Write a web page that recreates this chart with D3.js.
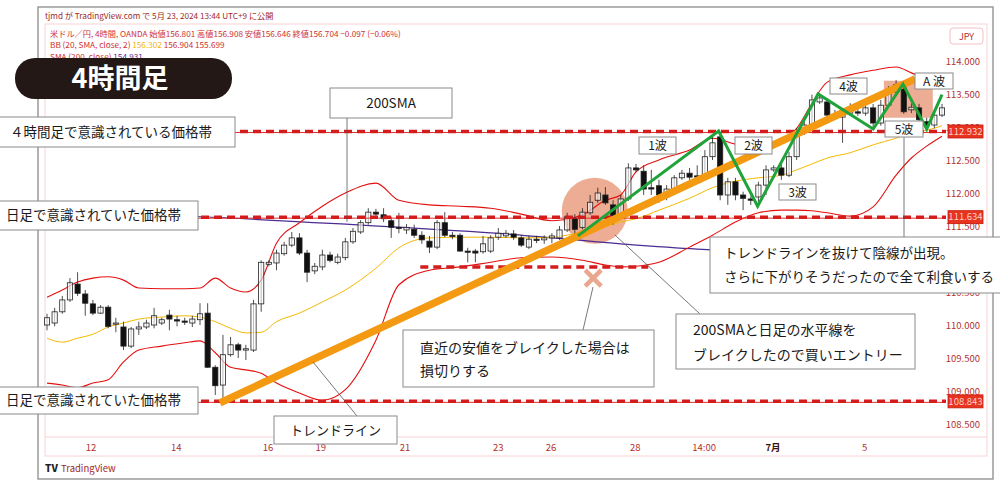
<!DOCTYPE html>
<html>
<head>
<meta charset="utf-8">
<script src="https://cdn.jsdelivr.net/npm/d3@7"></script>
<style>
body { margin: 0; background: #fff; }
svg { display: block; font-family: "Noto Sans CJK JP", "Noto Sans", sans-serif; }
</style>
</head>
<body>
<svg id="chart" width="1000" height="487"></svg>
<script>
// ---------------- data (USD/JPY 4h) ----------------

var candleOpen = [110.00,110.03,110.20,110.38,110.62,110.47,110.32,110.18,110.27,110.02,109.97,109.68,109.94,109.97,110.00,110.03,110.15,110.08,110.06,110.03,
  110.08,110.18,109.36,109.09,109.55,109.70,109.62,109.62,110.32,110.92,110.94,111.08,111.21,111.32,111.09,110.82,110.88,111.06,110.95,111.02,
  111.26,111.41,111.55,111.71,111.67,111.58,111.48,111.44,111.45,111.36,111.27,111.18,111.55,111.36,111.36,111.12,111.12,111.11,111.12,111.33,
  111.35,111.38,111.32,111.18,111.30,111.29,111.32,111.32,111.44,111.62,111.48,111.70,111.89,111.97,111.82,111.64,111.91,112.38,112.33,112.08,
  112.11,111.94,112.06,112.23,112.30,112.26,112.24,112.55,112.85,111.97,112.17,111.97,111.91,111.94,112.12,112.35,112.38,112.27,112.55,112.92,
  113.03,113.38,113.38,113.18,113.15,113.21,113.23,113.21,113.29,113.06,113.33,113.53,113.59,113.26,113.29,113.08,113.03,113.18];
var candleHigh = [110.17,110.26,110.44,110.71,110.80,110.53,110.38,110.30,110.30,110.11,110.05,109.97,110.05,110.08,110.26,110.11,110.23,110.14,110.11,110.14,
  110.33,110.33,109.39,109.85,109.82,109.73,109.70,110.38,110.98,110.98,111.14,111.26,111.41,111.39,111.14,110.94,111.14,111.11,111.08,111.32,
  111.47,111.59,111.77,111.76,111.77,111.64,111.70,111.53,111.52,111.42,111.35,111.59,111.71,111.41,111.39,111.17,111.15,111.35,111.36,111.47,
  111.44,111.44,111.36,111.35,111.35,111.36,111.39,111.50,111.70,111.68,111.77,111.97,112.08,112.09,111.89,111.97,112.45,112.44,112.42,112.35,
  112.20,112.12,112.27,112.35,112.38,112.42,112.65,112.88,112.92,112.23,112.23,112.02,111.95,112.17,112.42,112.42,112.45,112.62,112.98,113.11,
  113.49,113.50,113.44,113.26,113.29,113.36,113.29,113.35,113.35,113.41,113.62,113.71,113.68,113.36,113.35,113.14,113.26,113.35];
var candleLow = [109.92,109.98,110.17,110.35,110.44,110.14,110.15,110.17,109.95,109.89,109.62,109.65,109.85,109.94,109.95,110.00,109.92,109.98,110.00,109.97,
  110.00,109.35,108.94,108.84,109.52,109.50,109.47,109.59,110.20,110.89,110.83,111.05,111.18,111.06,110.65,110.77,110.83,110.95,110.92,110.98,
  111.23,111.38,111.52,111.65,111.56,111.32,111.39,111.38,111.32,111.23,111.09,111.15,111.33,111.30,111.11,110.95,110.95,111.08,111.09,111.29,
  111.32,111.29,111.18,111.15,111.24,111.23,111.24,111.29,111.41,111.38,111.45,111.67,111.85,111.82,111.52,111.61,111.88,112.32,111.97,111.97,
  111.85,111.89,112.03,112.20,112.20,112.17,112.21,112.50,111.89,111.82,111.89,111.74,111.82,111.80,111.97,112.32,112.20,112.24,112.50,112.88,
  112.98,113.35,113.14,113.11,112.76,113.17,113.17,113.17,112.98,113.02,113.29,113.49,113.20,113.21,113.05,112.95,112.98,113.15];
var candleClose = [110.11,110.20,110.38,110.64,110.48,110.33,110.18,110.27,109.98,110.03,109.68,109.94,109.97,110.03,110.14,110.08,110.09,110.06,110.05,110.09,
  110.17,109.36,109.08,109.55,109.70,109.62,109.64,110.32,110.95,110.95,111.09,111.21,111.32,111.09,110.80,110.89,111.06,110.98,111.03,111.26,
  111.42,111.55,111.71,111.68,111.61,111.48,111.47,111.48,111.36,111.29,111.18,111.55,111.36,111.35,111.12,111.11,111.09,111.23,111.32,111.39,
  111.39,111.33,111.21,111.30,111.29,111.32,111.35,111.44,111.64,111.45,111.71,111.86,112.00,111.85,111.62,111.91,112.38,112.35,112.06,112.06,
  111.97,112.06,112.23,112.30,112.24,112.24,112.55,112.76,111.97,112.17,111.97,111.92,111.89,112.12,112.35,112.38,112.27,112.55,112.92,113.03,
  113.41,113.44,113.18,113.15,113.23,113.30,113.21,113.29,113.06,113.33,113.56,113.64,113.23,113.30,113.11,113.02,113.18,113.29];

// Bollinger band (20, 2) and SMA200, read at these candle positions
var bbIdx   = [0,2,4,6,8,10,12,15,18,20,22,24,26,28,30,33,36,39,43,46,50,54,58,62,66,70,73,75,77,80,84,87,90,93,96,98,100,102,105,108,111,113,115,117];
var bbUpper = [110.42,110.53,110.65,110.71,110.73,110.68,110.56,110.55,110.55,110.56,110.71,110.56,110.50,110.68,111.24,111.55,111.80,112.00,112.15,111.89,
  111.82,111.80,111.77,111.68,111.58,111.67,111.89,111.97,112.32,112.50,112.65,112.83,112.74,112.68,112.80,112.98,113.36,113.68,113.79,113.86,113.91,113.82,113.71,113.59];
var bbBasis = [109.80,109.74,109.80,109.86,109.97,110.03,110.09,110.12,110.14,110.12,110.05,109.95,109.88,109.89,110.05,110.18,110.35,110.53,110.86,111.17,
  111.32,111.33,111.33,111.32,111.33,111.41,111.49,111.56,111.61,111.74,111.92,112.08,112.18,112.23,112.27,112.35,112.44,112.53,112.61,112.73,112.83,112.91,112.95,113.02];
var bbLower = [109.12,109.09,109.05,109.12,109.17,109.44,109.62,109.68,109.73,109.76,109.58,109.36,109.32,109.27,109.12,108.97,108.86,109.02,109.77,110.61,
  110.83,110.88,110.95,111.02,111.03,110.98,110.91,110.88,110.89,110.95,111.18,111.36,111.56,111.70,111.74,111.74,111.73,111.70,111.65,111.79,112.27,112.53,112.71,112.86];
var smaIdx = [0,20,40,60,75,85,117];
var sma200 = [111.71,111.64,111.52,111.38,111.23,111.15,111.05];

// horizontal levels drawn on the chart
var levels = [112.932, 111.634, 108.843];
var stopLevel = 110.88, stopFrom = 48.8, stopTo = 78.6;

// trend line and Elliott waves (candle position, price)
var trendIdx = [22.6, 113.5];
var trendPrice = [108.82, 113.73];
var waveIdx = [69.4, 87.8, 92.9, 100.8, 108.0, 111.9, 115.0, 117.0];
var wavePrice = [111.35, 112.94, 111.80, 113.50, 112.97, 113.65, 112.97, 113.49];

// axes
var priceTicks = [108.5, 109, 109.5, 110, 110.5, 111, 111.5, 112, 112.5, 113, 113.5, 114];
var timeIdx = [5.75, 16.9, 28.9, 35.8, 46.8, 59, 65.9, 76.9, 85.9, 94.9, 106.9];
var timeLabels = ["12", "14", "16", "19", "21", "23", "26", "28", "14:00", "7月", "5"];

// ---------------- chart ----------------

var svg = d3.select('#chart');
var x = d3.scaleLinear().domain([0, 117]).range([47, 942]);
var y = d3.scaleLinear().domain([108.5, 114]).range([424, 61]);
var salmon = '#e9987a';

// frames
svg.append('rect').attr('x', 38).attr('y', 7).attr('width', 955).attr('height', 472)
  .attr('fill', 'none').attr('stroke', '#9a9a9a').attr('stroke-width', 1.5);
svg.append('rect').attr('x', 45).attr('y', 24).attr('width', 942).attr('height', 432)
  .attr('fill', 'none').attr('stroke', '#f7d3d6').attr('stroke-width', 1);
svg.append('line').attr('x1', 45).attr('x2', 987).attr('y1', 437).attr('y2', 437)
  .attr('stroke', '#f7d3d6');

// header
var head = svg.append('g').style('font-size', '8.2px').style('white-space', 'pre');
head.append('text').attr('x', 45).attr('y', 19).attr('fill', '#a02828')
  .text('tjmd が TradingView.com で 5月 23, 2024 13:44 UTC+9 に公開');
head.append('text').attr('x', 50).attr('y', 37).attr('fill', '#d03030')
  .text('米ドル／円, 4時間, OANDA  始値156.801  高値156.908  安値156.646  終値156.704  −0.097 (−0.06%)');
var bbText = head.append('text').attr('x', 50).attr('y', 48).attr('fill', '#d03030');
bbText.append('tspan').text('BB (20, SMA, close, 2)  ');
bbText.append('tspan').attr('fill', '#f2b705').text('156.302  ');
bbText.append('tspan').text('156.904  155.699');
var smaText = head.append('text').attr('x', 50).attr('y', 60).attr('fill', '#d03030');
smaText.append('tspan').text('SMA (200, close)  ');
smaText.append('tspan').attr('fill', '#5a2ca0').text('154.931');

// price axis
svg.append('g').selectAll('text').data(priceTicks).enter().append('text')
  .attr('x', 980).attr('y', d => y(d) + 3.5).attr('text-anchor', 'end')
  .style('font-size', '9.5px').attr('fill', '#b5302c')
  .text(d => d.toFixed(3));

// time axis
svg.append('g').selectAll('text').data(timeLabels).enter().append('text')
  .attr('x', (d, i) => x(timeIdx[i])).attr('y', 451).attr('text-anchor', 'middle')
  .style('font-size', '9.5px')
  .style('font-weight', d => d == '7月' ? 'bold' : 'normal')
  .attr('fill', d => d == '7月' ? '#3a1010' : '#b5302c')
  .text(d => d);

// highlight zones
svg.append('circle').attr('cx', x(71.6)).attr('cy', y(111.73)).attr('r', 33)
  .attr('fill', salmon).attr('opacity', 0.8);
svg.append('rect').attr('x', x(109.4)).attr('y', y(113.70))
  .attr('width', x(115.8) - x(109.4)).attr('height', y(113.14) - y(113.70))
  .attr('fill', salmon).attr('opacity', 0.8);

// bands + sma
function bandLine(idx, vals, color, w) {
  var pts = idx.map((d, i) => [x(d), y(vals[i])]);
  svg.append('path').datum(pts)
    .attr('d', d3.line().curve(d3.curveMonotoneX))
    .attr('fill', 'none').attr('stroke', color).attr('stroke-width', w);
}
bandLine(smaIdx, sma200, '#4b2c91', 1.2);
bandLine(bbIdx, bbBasis, '#f5b800', 1);
bandLine(bbIdx, bbUpper, '#e41010', 1.1);
bandLine(bbIdx, bbLower, '#e41010', 1.1);

// candles
var candles = candleOpen.map((o, i) => ({ i: i, o: o, h: candleHigh[i], l: candleLow[i], c: candleClose[i] }));
var cg = svg.append('g');
cg.selectAll('.wick').data(candles).enter().append('line')
  .attr('x1', d => x(d.i)).attr('x2', d => x(d.i))
  .attr('y1', d => y(d.h)).attr('y2', d => y(d.l))
  .attr('stroke', '#222').attr('stroke-width', 0.8);
cg.selectAll('.body').data(candles).enter().append('rect')
  .attr('x', d => x(d.i) - 2.6).attr('width', 5.2)
  .attr('y', d => y(Math.max(d.o, d.c)))
  .attr('height', d => Math.max(1.2, Math.abs(y(d.o) - y(d.c))))
  .attr('fill', d => d.c >= d.o ? 'rgba(255,255,255,0.6)' : '#111')
  .attr('stroke', '#222').attr('stroke-width', 0.8);

// horizontal levels
levels.forEach(function (lv) {
  svg.append('line').attr('x1', 45).attr('x2', 946).attr('y1', y(lv) + 1).attr('y2', y(lv) + 1)
    .attr('stroke', '#e03030').attr('stroke-width', 1);
  svg.append('line').attr('x1', 45).attr('x2', 946).attr('y1', y(lv)).attr('y2', y(lv))
    .attr('stroke', '#d41c1c').attr('stroke-width', 3.5).attr('stroke-dasharray', '8,5');
});
svg.append('line').attr('x1', x(stopFrom)).attr('x2', x(stopTo))
  .attr('y1', y(stopLevel)).attr('y2', y(stopLevel))
  .attr('stroke', '#d41c1c').attr('stroke-width', 3.5).attr('stroke-dasharray', '8,5');

// trend line
svg.append('line')
  .attr('x1', x(trendIdx[0])).attr('y1', y(trendPrice[0]))
  .attr('x2', x(trendIdx[1])).attr('y2', y(trendPrice[1]))
  .attr('stroke', '#f39a12').attr('stroke-width', 7.5);

// waves
svg.append('path').datum(waveIdx.map((d, i) => [x(d), y(wavePrice[i])]))
  .attr('d', d3.line()).attr('fill', 'none')
  .attr('stroke', '#1fa33a').attr('stroke-width', 3).attr('stroke-linejoin', 'miter');

// stop mark
var mx = x(71.4), my = y(110.71);
svg.append('path').attr('d', `M${mx - 8},${my - 8}L${mx + 8},${my + 8}M${mx + 8},${my - 8}L${mx - 8},${my + 8}`)
  .attr('stroke', '#eaa78f').attr('stroke-width', 4.5);

// leader lines
var leaders = [[347, 118, 347, 222], [313, 362, 357, 416], [904, 137, 904, 237], [615, 235, 700, 314], [593, 287, 583, 330]];
svg.append('g').selectAll('line').data(leaders).enter().append('line')
  .attr('x1', d => d[0]).attr('y1', d => d[1]).attr('x2', d => d[2]).attr('y2', d => d[3])
  .attr('stroke', '#555').attr('stroke-width', 0.8);

// note boxes
var notes = [
  { x: 330, y: 88, w: 122, h: 30, size: 13.5, mid: true, lines: ['200SMA'], base: [108] },
  { x: -2, y: 117, w: 237, h: 30, size: 13.5, tx: 10, lines: ['４時間足で意識されている価格帯'], base: [137] },
  { x: -2, y: 201, w: 200, h: 29, size: 13.5, tx: 6, lines: ['日足で意識されていた価格帯'], base: [220] },
  { x: -2, y: 387, w: 200, h: 27, size: 13.5, tx: 6, lines: ['日足で意識されていた価格帯'], base: [405] },
  { x: 274, y: 416, w: 123, h: 28, size: 13, mid: true, lines: ['トレンドライン'], base: [435] },
  { x: 639, y: 137, w: 37, h: 17, size: 12, mid: true, lines: ['1波'], base: [150] },
  { x: 735, y: 137, w: 37, h: 17, size: 12, mid: true, lines: ['2波'], base: [150] },
  { x: 779, y: 184, w: 37, h: 16, size: 12, mid: true, lines: ['3波'], base: [197] },
  { x: 830, y: 78, w: 37, h: 16, size: 12, mid: true, lines: ['4波'], base: [91] },
  { x: 885, y: 121, w: 38, h: 16, size: 12, mid: true, lines: ['5波'], base: [134] },
  { x: 915, y: 73, w: 38, h: 16, size: 12, mid: true, lines: ['A 波'], base: [86] },
  { x: 710, y: 237, w: 295, h: 56, size: 13.5, tx: 724, lines: ['トレンドラインを抜けて陰線が出現。', 'さらに下がりそうだったので全て利食いする'], base: [258, 282] },
  { x: 676, y: 314, w: 239, h: 55, size: 14, tx: 693, lines: ['200SMAと日足の水平線を', 'ブレイクしたので買いエントリー'], base: [335, 360] },
  { x: 403, y: 330, w: 251, h: 57, size: 14, tx: 420, lines: ['直近の安値をブレイクした場合は', '損切りする'], base: [353, 376] }
];
notes.forEach(function (n) {
  var g = svg.append('g');
  g.append('rect').attr('x', n.x).attr('y', n.y).attr('width', n.w).attr('height', n.h)
    .attr('fill', '#fff').attr('stroke', '#8a8a8a').attr('stroke-width', 1);
  n.lines.forEach(function (t, k) {
    g.append('text')
      .attr('x', n.mid ? n.x + n.w / 2 : n.tx)
      .attr('y', n.base[k])
      .attr('text-anchor', n.mid ? 'middle' : 'start')
      .style('font-size', n.size + 'px').attr('fill', '#1a1a1a')
      .text(t);
  });
});

// title pill
svg.append('rect').attr('x', 15).attr('y', 58).attr('width', 217).attr('height', 41)
  .attr('rx', 20).attr('fill', '#231815');
svg.append('text').attr('x', 120).attr('y', 88).attr('text-anchor', 'middle')
  .style('font-size', '27px').style('font-weight', 'bold').attr('fill', '#fff')
  .style('font-family', '"Noto Sans CJK JP", sans-serif').text('4時間足');

// price labels of the levels
levels.forEach(function (lv) {
  svg.append('rect').attr('x', 948).attr('y', y(lv) - 6.5).attr('width', 35).attr('height', 13)
    .attr('fill', '#e8331f').attr('stroke', '#c41a10').attr('stroke-width', 0.8);
  svg.append('text').attr('x', 965.5).attr('y', y(lv) + 3.3).attr('text-anchor', 'middle')
    .style('font-size', '9.5px').attr('fill', '#fbd0c8').text(lv.toFixed(3));
});

// currency box
svg.append('rect').attr('x', 950).attr('y', 28).attr('width', 33).attr('height', 16).attr('rx', 3)
  .attr('fill', '#fff').attr('stroke', '#f3c0c6');
svg.append('text').attr('x', 966.5).attr('y', 39.5).attr('text-anchor', 'middle')
  .style('font-size', '9px').attr('fill', '#b5302c').text('JPY');

// logo
svg.append('text').attr('x', 45).attr('y', 472).style('font-size', '10px').style('font-weight', '900')
  .attr('fill', '#222').text('TV');
svg.append('text').attr('x', 61).attr('y', 472).style('font-size', '9.5px')
  .attr('fill', '#a02828').text('TradingView');
</script>
</body>
</html>
